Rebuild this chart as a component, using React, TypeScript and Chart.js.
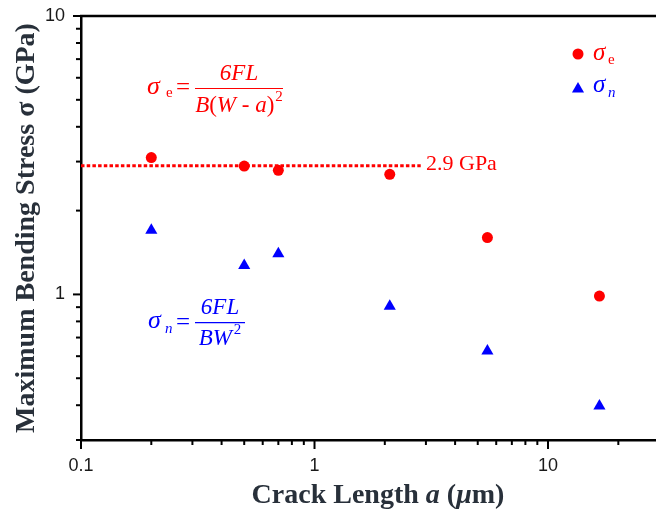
import React, { useEffect, useRef } from 'react';
import { Chart, registerables } from 'chart.js';

Chart.register(...registerables);

// ---- data ----
const crackLength = [0.2, 0.5, 0.7, 2.1, 5.5, 16.6];
const sigmaE = [3.1, 2.89, 2.79, 2.7, 1.6, 0.986];
const sigmaN = [1.7, 1.27, 1.4, 0.906, 0.626, 0.397];
const refLineX = [0.1, 2.85];
const refLineY = [2.9, 2.9];
const refLabel = '2.9 GPa';
const xTickValues = [0.1, 1, 10];
const xTickLabels = ['0.1', '1', '10'];
const yTickValues = [1, 10];
const yTickLabels = ['1', '10'];
const xRange = [0.1, 29];
const yRange = [0.3, 10];

const RED = '#ff0000';
const BLUE = '#0000ff';
const TITLE = '#28303a';
const SERIF = '"Liberation Serif", "Times New Roman", serif';
const SANS = '"Liberation Sans", Arial, sans-serif';

type Seg = { t: string; f: string; dx?: number; dy?: number };

function segWidth(ctx: CanvasRenderingContext2D, segs: Seg[]) {
  let w = 0;
  for (const s of segs) {
    ctx.font = s.f;
    w += ctx.measureText(s.t).width + (s.dx || 0);
  }
  return w;
}

function drawSegs(ctx: CanvasRenderingContext2D, segs: Seg[], x: number, y: number) {
  let cx = x;
  ctx.textAlign = 'left';
  ctx.textBaseline = 'alphabetic';
  for (const s of segs) {
    ctx.font = s.f;
    cx += s.dx || 0;
    ctx.fillText(s.t, cx, y + (s.dy || 0));
    cx += ctx.measureText(s.t).width;
  }
}

function matchTick(v: number, values: number[]) {
  return values.findIndex((t) => Math.abs(Math.log10(v) - Math.log10(t)) < 1e-6);
}

function isDecadeMultiple(v: number) {
  const p = Math.pow(10, Math.floor(Math.log10(v) + 1e-9));
  const m = v / p;
  return Math.abs(m - Math.round(m)) < 1e-6;
}

const decorPlugin = {
  id: 'decor',
  afterDraw(chart: any) {
    const ctx: CanvasRenderingContext2D = chart.ctx;
    const { left, right, top, bottom } = chart.chartArea;
    const xs = chart.scales.x;
    const ys = chart.scales.y;
    ctx.save();
    // top frame
    ctx.strokeStyle = '#000';
    ctx.lineWidth = 2.5;
    ctx.beginPath();
    ctx.moveTo(left - 1, top);
    ctx.lineTo(right, top);
    ctx.stroke();

    // tick marks
    ctx.lineWidth = 2;
    for (const t of ys.ticks) {
      const v = t.value;
      if (!isDecadeMultiple(v)) continue;
      const py = ys.getPixelForValue(v);
      if (py < top - 1 || py > bottom + 1) continue;
      const major = matchTick(v, yTickValues) >= 0;
      const len = major ? 8 : 5;
      ctx.beginPath();
      ctx.moveTo(left - len, py);
      ctx.lineTo(left, py);
      ctx.stroke();
    }
    for (const t of xs.ticks) {
      const v = t.value;
      if (!isDecadeMultiple(v)) continue;
      const px = xs.getPixelForValue(v);
      if (px < left - 1 || px > right + 1) continue;
      const major = matchTick(v, xTickValues) >= 0;
      const len = major ? 9 : 5;
      ctx.beginPath();
      ctx.moveTo(px, bottom);
      ctx.lineTo(px, bottom + len);
      ctx.stroke();
    }

    // axis titles
    ctx.fillStyle = TITLE;
    ctx.save();
    ctx.translate(34, 228);
    ctx.rotate(-Math.PI / 2);
    ctx.font = `bold 28px ${SERIF}`;
    ctx.textAlign = 'center';
    ctx.textBaseline = 'alphabetic';
    ctx.fillText('Maximum Bending Stress σ (GPa)', 0, 0);
    ctx.restore();

    const xt: Seg[] = [
      { t: 'Crack Length ', f: `bold 28px ${SERIF}` },
      { t: 'a', f: `italic bold 28px ${SERIF}` },
      { t: ' (', f: `bold 28px ${SERIF}` },
      { t: 'μ', f: `italic bold 28px ${SERIF}` },
      { t: 'm)', f: `bold 28px ${SERIF}` },
    ];
    const xw = segWidth(ctx, xt);
    drawSegs(ctx, xt, 378 - xw / 2, 503);

    const SIG = `italic 26px ${SERIF}`;
    const IT = `italic 23px ${SERIF}`;
    const UP = `23px ${SERIF}`;
    const EQ = `25px ${SERIF}`;
    const SUB = `15px ${SERIF}`;
    const SUBI = `italic 15px ${SERIF}`;

    // sigma_e formula
    ctx.fillStyle = RED;
    ctx.strokeStyle = RED;
    drawSegs(ctx, [{ t: 'σ', f: SIG }], 147, 93.5);
    drawSegs(ctx, [{ t: 'e', f: SUB }], 166, 97);
    drawSegs(ctx, [{ t: '=', f: EQ }], 176, 95);
    ctx.lineWidth = 1.2;
    ctx.beginPath();
    ctx.moveTo(195, 88.5);
    ctx.lineTo(283, 88.5);
    ctx.stroke();
    const num1: Seg[] = [{ t: '6FL', f: IT }];
    drawSegs(ctx, num1, 239 - segWidth(ctx, num1) / 2, 80);
    const den1: Seg[] = [
      { t: 'B', f: IT },
      { t: '(', f: UP },
      { t: 'W', f: IT },
      { t: ' - ', f: UP },
      { t: 'a', f: IT },
      { t: ')', f: UP },
      { t: '2', f: SUB, dx: 1, dy: -11 },
    ];
    drawSegs(ctx, den1, 239 - segWidth(ctx, den1) / 2, 111.5);

    // ref label
    drawSegs(ctx, [{ t: refLabel, f: `22px ${SERIF}` }], 426, 170);

    // sigma_n formula
    ctx.fillStyle = BLUE;
    ctx.strokeStyle = BLUE;
    drawSegs(ctx, [{ t: 'σ', f: SIG }], 148, 328);
    drawSegs(ctx, [{ t: 'n', f: SUBI }], 165, 333);
    drawSegs(ctx, [{ t: '=', f: EQ }], 176, 329.5);
    ctx.lineWidth = 1.2;
    ctx.beginPath();
    ctx.moveTo(195, 322.7);
    ctx.lineTo(245, 322.7);
    ctx.stroke();
    const num2: Seg[] = [{ t: '6FL', f: IT }];
    drawSegs(ctx, num2, 220 - segWidth(ctx, num2) / 2, 313.5);
    const den2: Seg[] = [
      { t: 'BW', f: IT },
      { t: '2', f: SUB, dx: 2, dy: -11 },
    ];
    drawSegs(ctx, den2, 220 - segWidth(ctx, den2) / 2, 345);

    // legend
    ctx.fillStyle = RED;
    ctx.beginPath();
    ctx.arc(578, 54, 5.5, 0, Math.PI * 2);
    ctx.fill();
    drawSegs(ctx, [{ t: 'σ', f: `italic 25px ${SERIF}` }], 593, 60);
    drawSegs(ctx, [{ t: 'e', f: SUB }], 608, 64);

    ctx.fillStyle = BLUE;
    const r = 7;
    const cx = 578;
    const cy = 89;
    ctx.beginPath();
    for (let i = 0; i < 3; i++) {
      const a = (i * 2 * Math.PI) / 3;
      const px = cx + Math.sin(a) * r;
      const py = cy - Math.cos(a) * r;
      if (i === 0) ctx.moveTo(px, py);
      else ctx.lineTo(px, py);
    }
    ctx.closePath();
    ctx.fill();
    drawSegs(ctx, [{ t: 'σ', f: `italic 25px ${SERIF}` }], 593, 92);
    drawSegs(ctx, [{ t: 'n', f: SUBI }], 608, 97);

    ctx.restore();
  },
};

export default function App() {
  const ref = useRef<HTMLCanvasElement | null>(null);

  useEffect(() => {
    if (!ref.current) return;
    const chart = new Chart(ref.current, {
      type: 'scatter',
      data: {
        datasets: [
          {
            type: 'line',
            label: 'ref',
            data: refLineX.map((x, i) => ({ x, y: refLineY[i] })),
            borderColor: RED,
            borderWidth: 3,
            borderDash: [3.5, 2.2],
            pointRadius: 0,
            fill: false,
            showLine: true,
          } as any,
          {
            label: 'σe',
            data: crackLength.map((x, i) => ({ x, y: sigmaE[i] })),
            pointStyle: 'circle',
            pointRadius: 5.5,
            pointHoverRadius: 5.5,
            backgroundColor: RED,
            borderWidth: 0,
          },
          {
            label: 'σn',
            data: crackLength.map((x, i) => ({ x, y: sigmaN[i] })),
            pointStyle: 'triangle',
            pointRadius: 7,
            pointHoverRadius: 7,
            backgroundColor: BLUE,
            borderWidth: 0,
          },
        ],
      },
      options: {
        animation: false,
        responsive: false,
        devicePixelRatio: 1,
        layout: { padding: { top: 16, left: 0, right: 0, bottom: 0 }, autoPadding: false },
        plugins: { legend: { display: false }, tooltip: { enabled: false } },
        events: [],
        scales: {
          x: {
            type: 'logarithmic',
            position: 'bottom',
            min: xRange[0],
            max: xRange[1],
            afterFit: (s: any) => {
              s.height = 71;
              s.paddingLeft = 0;
              s.paddingRight = 0;
              s.paddingTop = 0;
              s.paddingBottom = 0;
            },
            grid: { display: true, drawOnChartArea: false, drawTicks: false },
            border: { display: true, color: '#000', width: 2.5 },
            ticks: {
              autoSkip: false,
              maxRotation: 0,
              padding: 15,
              color: '#1a1a1a',
              font: { family: SANS, size: 18 },
              callback: (v: any) => {
                const i = matchTick(Number(v), xTickValues);
                return i >= 0 ? xTickLabels[i] : '';
              },
            },
          },
          y: {
            type: 'logarithmic',
            position: 'left',
            min: yRange[0],
            max: yRange[1],
            afterFit: (s: any) => {
              s.width = 81;
              s.paddingLeft = 0;
              s.paddingRight = 0;
              s.paddingTop = 0;
              s.paddingBottom = 0;
            },
            grid: { display: true, drawOnChartArea: false, drawTicks: false },
            border: { display: true, color: '#000', width: 2.5 },
            ticks: {
              autoSkip: false,
              padding: 16,
              color: '#1a1a1a',
              font: { family: SANS, size: 18 },
              callback: (v: any) => {
                const i = matchTick(Number(v), yTickValues);
                return i >= 0 ? yTickLabels[i] : '';
              },
            },
          },
        },
      } as any,
      plugins: [decorPlugin],
    });
    return () => chart.destroy();
  }, []);

  return (
    <div style={{ position: 'absolute', left: 0, top: 0, width: 656, height: 511, background: '#fff' }}>
      <canvas ref={ref} width={656} height={511} style={{ display: 'block' }} />
    </div>
  );
}
